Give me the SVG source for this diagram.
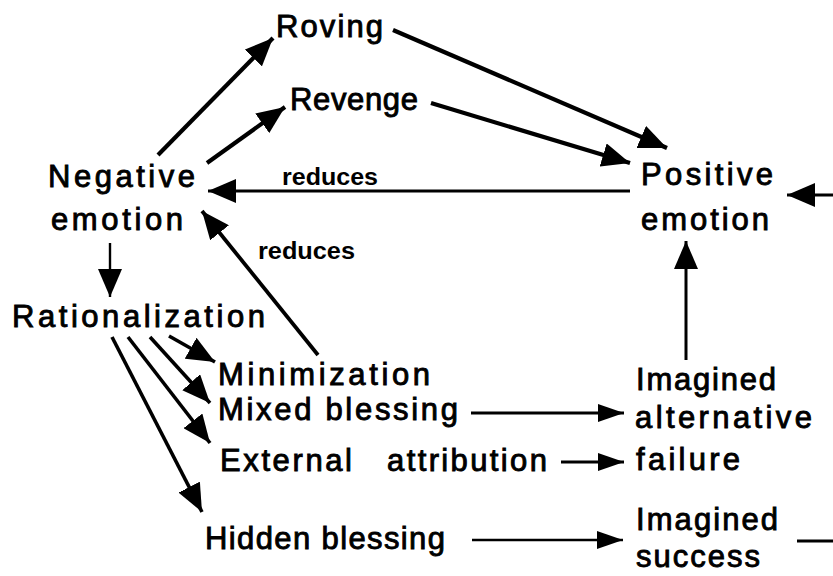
<svg xmlns="http://www.w3.org/2000/svg" width="833" height="576" viewBox="0 0 833 576">
<style>
  .t { font-family: "Liberation Sans", Arial, sans-serif; font-size: 31px; fill: #000; stroke: #000; stroke-width: 0.9; }
  .s { font-family: "Liberation Sans", Arial, sans-serif; font-size: 23px; font-weight: bold; fill: #000; }
  .c { stroke: #000; fill: none; stroke-linecap: butt; }
</style>
<defs>
  <marker id="big" markerUnits="userSpaceOnUse" markerWidth="29" markerHeight="24" refX="28" refY="12" orient="auto" viewBox="0 0 29 24">
    <path d="M0,0 L28,12 L0,24 z" fill="#000"/>
  </marker>
  <marker id="slim" markerUnits="userSpaceOnUse" markerWidth="27" markerHeight="18" refX="26" refY="9" orient="auto" viewBox="0 0 27 18">
    <path d="M0,0 L26,9 L0,18 z" fill="#000"/>
  </marker>
</defs>
<g id="connectors">
  <line class="c" x1="158" y1="155" x2="273" y2="38" stroke-width="4.2" marker-end="url(#big)"/>
  <line class="c" x1="207" y1="163" x2="285" y2="107" stroke-width="4.2" marker-end="url(#big)"/>
  <line class="c" x1="393" y1="30" x2="667" y2="148" stroke-width="4.2" marker-end="url(#big)"/>
  <line class="c" x1="431" y1="103" x2="630" y2="163" stroke-width="4.2" marker-end="url(#big)"/>
  <line class="c" x1="630" y1="191" x2="208" y2="191" stroke-width="3.2" marker-end="url(#big)"/>
  <line class="c" x1="833" y1="195" x2="787" y2="195" stroke-width="3.2" marker-end="url(#big)"/>
  <line class="c" x1="318" y1="355" x2="202" y2="211" stroke-width="3.8" marker-end="url(#big)"/>
  <line class="c" x1="110" y1="243" x2="110" y2="297" stroke-width="2.4" marker-end="url(#big)"/>
  <line class="c" x1="686" y1="360" x2="686" y2="241" stroke-width="3" marker-end="url(#big)"/>
  <line class="c" x1="169" y1="336" x2="215" y2="362" stroke-width="3.6" marker-end="url(#big)"/>
  <line class="c" x1="150" y1="337" x2="210" y2="403" stroke-width="3.6" marker-end="url(#big)"/>
  <line class="c" x1="128" y1="337" x2="210" y2="443" stroke-width="3.6" marker-end="url(#big)"/>
  <line class="c" x1="112" y1="337" x2="202" y2="512" stroke-width="3.6" marker-end="url(#big)"/>
  <line class="c" x1="471" y1="413" x2="624" y2="413" stroke-width="3.2" marker-end="url(#slim)"/>
  <line class="c" x1="561" y1="462" x2="624" y2="462" stroke-width="3.2" marker-end="url(#slim)"/>
  <line class="c" x1="472" y1="540" x2="623" y2="540" stroke-width="2.6" marker-end="url(#slim)"/>
  <line class="c" x1="797" y1="541" x2="833" y2="541" stroke-width="3"/>
</g>
<g id="edge-labels">
  <text class="s" x="282" y="185" textLength="96" lengthAdjust="spacingAndGlyphs">reduces</text>
  <text class="s" x="258" y="259" textLength="97" lengthAdjust="spacingAndGlyphs">reduces</text>
</g>
<g id="roving"><text class="t" x="276" y="37" textLength="107" lengthAdjust="spacing">Roving</text></g>
<g id="revenge"><text class="t" x="290" y="110" textLength="128" lengthAdjust="spacing">Revenge</text></g>
<g id="negative-emotion">
  <text class="t" x="48" y="187" textLength="147" lengthAdjust="spacing">Negative</text>
  <text class="t" x="51" y="230" textLength="132" lengthAdjust="spacing">emotion</text>
</g>
<g id="positive-emotion">
  <text class="t" x="641" y="185" textLength="132" lengthAdjust="spacing">Positive</text>
  <text class="t" x="641" y="230" textLength="128" lengthAdjust="spacing">emotion</text>
</g>
<g id="rationalization"><text class="t" x="12" y="327" textLength="253" lengthAdjust="spacing">Rationalization</text></g>
<g id="minimization"><text class="t" x="218" y="385" textLength="212" lengthAdjust="spacing">Minimization</text></g>
<g id="mixed-blessing"><text class="t" x="218" y="420" textLength="240" lengthAdjust="spacing">Mixed blessing</text></g>
<g id="external-attribution"><text class="t" x="220" y="471"><tspan textLength="132" lengthAdjust="spacing">External</tspan><tspan x="387" textLength="160" lengthAdjust="spacing">attribution</tspan></text></g>
<g id="hidden-blessing"><text class="t" x="205" y="549" textLength="240" lengthAdjust="spacing">Hidden blessing</text></g>
<g id="imagined-alternative-failure">
  <text class="t" x="636" y="390" textLength="140" lengthAdjust="spacing">Imagined</text>
  <text class="t" x="635" y="428" textLength="177" lengthAdjust="spacing">alternative</text>
  <text class="t" x="636" y="470" textLength="104" lengthAdjust="spacing">failure</text>
</g>
<g id="imagined-success">
  <text class="t" x="636" y="530" textLength="142" lengthAdjust="spacing">Imagined</text>
  <text class="t" x="636" y="567" textLength="124" lengthAdjust="spacing">success</text>
</g>
</svg>
